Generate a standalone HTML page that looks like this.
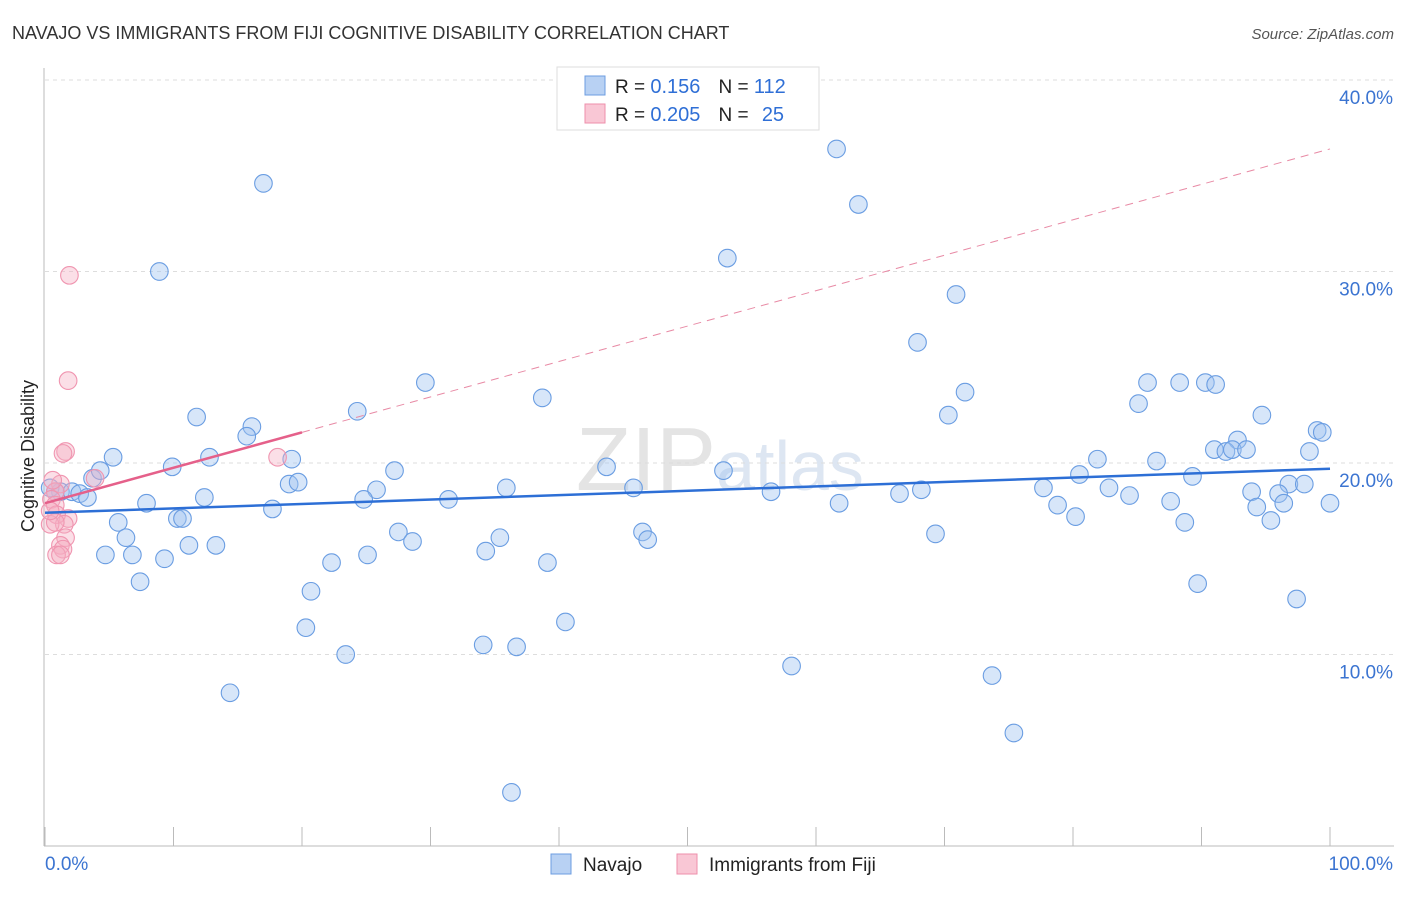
<!DOCTYPE html>
<html><head><meta charset="utf-8"><style>
body{margin:0;background:#fff;font-family:"Liberation Sans",sans-serif;}
svg text{font-family:"Liberation Sans",sans-serif;}
</style></head><body>
<svg id="chart" width="1406" height="892" xmlns="http://www.w3.org/2000/svg">
<text x="12" y="39" font-size="18" fill="#333">NAVAJO VS IMMIGRANTS FROM FIJI COGNITIVE DISABILITY CORRELATION CHART</text>
<text x="1394" y="39" font-size="15" fill="#555" text-anchor="end" font-style="italic">Source: ZipAtlas.com</text>
<text x="720" y="490" font-size="90" fill="#e4e4e4" text-anchor="middle" font-family="Liberation Serif">ZIP<tspan font-family="Liberation Sans" font-size="70" fill="#dde6f2">atlas</tspan></text>
<g id="grid"></g>
<g id="axes"></g>
<g id="marks"></g>
<text transform="translate(34,456) rotate(-90)" font-size="18" fill="#222" text-anchor="middle">Cognitive Disability</text>
<g>
<rect x="557" y="67" width="262" height="63" fill="#fff" stroke="#ddd"/>
<rect x="585" y="76" width="20" height="19" fill="#b8d1f3" stroke="#6c9de0"/>
<text x="615" y="93" font-size="19" fill="#222">R = <tspan fill="#2f6fd6" font-size="20">0.156</tspan><tspan dx="18">N = </tspan><tspan fill="#2f6fd6" font-size="20">112</tspan></text>
<rect x="585" y="104" width="20" height="19" fill="#f9c7d5" stroke="#ee8fab"/>
<text x="615" y="121" font-size="19" fill="#222">R = <tspan fill="#2f6fd6" font-size="20">0.205</tspan><tspan dx="18">N = </tspan><tspan dx="8" fill="#2f6fd6" font-size="20">25</tspan></text>
</g>
<g>
<rect x="551" y="854" width="20" height="20" fill="#b8d1f3" stroke="#6c9de0"/>
<text x="583" y="871" font-size="19" fill="#222">Navajo</text>
<rect x="677" y="854" width="20" height="20" fill="#f9c7d5" stroke="#ee8fab"/>
<text x="709" y="871" font-size="19" fill="#222">Immigrants from Fiji</text>
</g>
</svg>
<script>
const yTicks=[10,20,30,40];
const yTickLabels=["10.0%","20.0%","30.0%","40.0%"];
const xTickLabels=["0.0%","100.0%"];
const navajoX=[17.0,8.9,61.6,63.3,53.1,70.9,67.9,29.6,38.7,71.6,70.3,24.3,11.8,16.1,15.7,85.8,88.3,90.3,91.1,85.1,94.7,99.0,99.4,92.8,91.0,91.9,92.4,93.5,98.4,5.3,12.8,19.2,9.9,27.2,43.7,52.8,81.9,86.5,80.5,89.3,3.7,4.3,19.0,19.7,25.8,35.9,45.8,56.5,66.5,68.2,77.7,82.8,84.4,93.9,96.8,98.0,96.0,1.2,2.1,2.7,3.3,7.9,12.4,24.8,31.4,61.8,78.8,87.6,94.3,96.4,100.0,17.7,10.3,10.7,80.2,88.7,95.4,5.7,6.3,27.5,46.5,46.9,35.4,69.3,28.6,11.2,13.3,4.7,6.8,9.3,25.1,34.3,22.3,39.1,7.4,89.7,20.7,40.5,20.3,97.4,34.1,36.7,23.4,58.1,73.7,14.4,75.4,36.3,0.4,0.8];
const navajoY=[34.6,30.0,36.4,33.5,30.7,28.8,26.3,24.2,23.4,23.7,22.5,22.7,22.4,21.9,21.4,24.2,24.2,24.2,24.1,23.1,22.5,21.7,21.6,21.2,20.7,20.6,20.7,20.7,20.6,20.3,20.3,20.2,19.8,19.6,19.8,19.6,20.2,20.1,19.4,19.3,19.2,19.6,18.9,19.0,18.6,18.7,18.7,18.5,18.4,18.6,18.7,18.7,18.3,18.5,18.9,18.9,18.4,18.5,18.5,18.4,18.2,17.9,18.2,18.1,18.1,17.9,17.8,18.0,17.7,17.9,17.9,17.6,17.1,17.1,17.2,16.9,17.0,16.9,16.1,16.4,16.4,16.0,16.1,16.3,15.9,15.7,15.7,15.2,15.2,15.0,15.2,15.4,14.8,14.8,13.8,13.7,13.3,11.7,11.4,12.9,10.5,10.4,10.0,9.4,8.9,8.0,5.9,2.8,18.7,18.5];
const fijiX=[1.9,1.8,1.6,1.4,3.9,18.1,1.2,0.8,0.5,0.8,1.8,0.9,1.5,0.4,0.8,1.6,1.2,1.4,0.9,1.2,0.6,0.4];
const fijiY=[29.8,24.3,20.6,20.5,19.2,20.3,18.9,18.5,18.1,17.8,17.1,17.3,16.8,16.8,16.9,16.1,15.7,15.5,15.2,15.2,19.1,17.5];
const navajoTrend=[17.4,19.7];
const fijiTrend=[17.9,36.4];
const fijiSolidEnd=20;
const NS="http://www.w3.org/2000/svg";
const sx=v=>45+v*12.85, sy=v=>846-v*19.15;
function mk(t,a,p){const e=document.createElementNS(NS,t);for(const k in a)e.setAttribute(k,a[k]);p.appendChild(e);return e;}
const grid=document.getElementById('grid'),axes=document.getElementById('axes'),marks=document.getElementById('marks');
yTicks.forEach((t,i)=>{
 const l=mk('line',{x1:45,x2:1394,y1:sy(t),y2:sy(t),stroke:'#ddd','stroke-dasharray':'4,4'},grid);
 
 
 const tx=mk('text',{x:1393,y:sy(t)+24,'font-size':19,fill:'#3b74d1','text-anchor':'end'},grid);
 tx.textContent=yTickLabels[i];
 
 
});
mk('line',{x1:44,x2:44,y1:68,y2:846,stroke:'#bbb'},axes);
mk('line',{x1:44,x2:1394,y1:846,y2:846,stroke:'#bbb'},axes);
for(let i=0;i<=10;i++){mk('line',{x1:sx(i*10),x2:sx(i*10),y1:827,y2:846,stroke:'#bbb'},axes);}
[[0,'start',45],[1,'end',1393]].forEach(([i,a,x])=>{const t=mk('text',{x:x,y:870,'font-size':19,fill:'#3b74d1','text-anchor':a},axes);t.textContent=xTickLabels[i];

});
navajoX.forEach((x,i)=>{const c=mk('circle',{cx:sx(x),cy:sy(navajoY[i]),r:8.8,fill:'rgba(160,195,240,0.42)',stroke:'#6a9de2','stroke-width':1.1},marks);

});
fijiX.forEach((x,i)=>{const c=mk('circle',{cx:sx(x),cy:sy(fijiY[i]),r:8.8,fill:'rgba(246,175,195,0.4)',stroke:'#f095b0','stroke-width':1.1},marks);

});
const fy=x=>fijiTrend[0]+(fijiTrend[1]-fijiTrend[0])*x/100;
let l=mk('line',{x1:sx(fijiSolidEnd),y1:sy(fy(fijiSolidEnd)),x2:sx(100),y2:sy(fy(100)),stroke:'#e88aa5','stroke-dasharray':'8,6','stroke-width':1},marks);


l=mk('line',{x1:sx(0),y1:sy(fy(0)),x2:sx(fijiSolidEnd),y2:sy(fy(fijiSolidEnd)),stroke:'#e5608a','stroke-width':2.5},marks);


l=mk('line',{x1:sx(0),y1:sy(navajoTrend[0]),x2:sx(100),y2:sy(navajoTrend[1]),stroke:'#2d6fd6','stroke-width':2.5},marks);


</script>
</body></html>
